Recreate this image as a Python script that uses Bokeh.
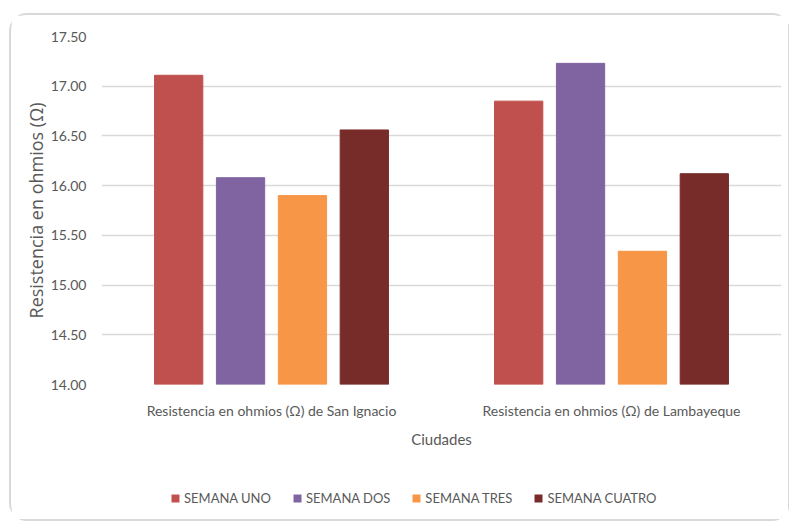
from bokeh.plotting import figure
from bokeh.models import (FactorRange, Range1d, FixedTicker, NumeralTickFormatter,
                          Legend, LegendItem, ColumnDataSource)
from bokeh.layouts import column
from bokeh.transform import dodge
from bokeh.embed import file_html
from bokeh.resources import INLINE

cities = ["Resistencia en ohmios (Ω) de San Ignacio",
          "Resistencia en ohmios (Ω) de Lambayeque"]
series = ["SEMANA UNO", "SEMANA DOS", "SEMANA TRES", "SEMANA CUATRO"]
semana_uno = [17.11, 16.85]
semana_dos = [16.08, 17.23]
semana_tres = [15.90, 15.34]
semana_cuatro = [16.56, 16.12]
y_ticks = [14.0, 14.5, 15.0, 15.5, 16.0, 16.5, 17.0, 17.5]

colors = ["#C0504D", "#8064A2", "#F79646", "#772C2A"]
values = [semana_uno, semana_dos, semana_tres, semana_cuatro]
offsets = [-0.273, -0.091, 0.091, 0.273]
label_color = "#595959"

xr = FactorRange(*cities)
p = figure(width=777, height=455, x_range=xr, y_range=Range1d(14.0, 17.5),
           output_backend="svg", toolbar_location=None,
           min_border_left=90, min_border_right=7, min_border_top=21, min_border_bottom=86)
p.outline_line_color = None

# legend strip below the chart (shares the data; its renderers are not drawn)
lf = figure(width=777, height=49, x_range=xr, y_range=Range1d(0, 1),
            output_backend="svg", toolbar_location=None, min_border=0,
            x_axis_location=None, y_axis_location=None)
lf.grid.grid_line_color = None
lf.outline_line_color = None

items = []
for name, vals, col, off in zip(series, values, colors, offsets):
    src = ColumnDataSource({"city": cities, "val": vals, "base": [14.0, 14.0]})
    p.vbar(x=dodge("city", off, range=xr), top="val", bottom="base",
           width=0.142, source=src, fill_color=col, line_color=col)
    r = lf.vbar(x=dodge("city", off, range=xr), top="val", bottom="base",
                width=0.142, source=src, fill_color=col, line_color=None)
    r.visible = False
    items.append(LegendItem(label=name, renderers=[r]))

p.yaxis.ticker = FixedTicker(ticks=y_ticks)
p.yaxis.formatter = NumeralTickFormatter(format="0.00")
p.yaxis.axis_line_color = None
p.yaxis.major_tick_line_color = None
p.yaxis.minor_tick_line_color = None
p.yaxis.major_label_text_font = "Lato"
p.yaxis.major_label_text_font_size = "14px"
p.yaxis.major_label_text_color = label_color
p.yaxis.major_label_standoff = 9
p.yaxis.axis_label = "Resistencia en ohmios (Ω)"
p.yaxis.axis_label_text_font = "Open Sans"
p.yaxis.axis_label_text_font_style = "normal"
p.yaxis.axis_label_text_font_size = "18px"
p.yaxis.axis_label_text_color = label_color
p.yaxis.axis_label_standoff = 0

p.xaxis.axis_line_color = None
p.xaxis.major_tick_line_color = None
p.xaxis.minor_tick_line_color = None
p.xaxis.major_label_text_font = "Lato"
p.xaxis.major_label_text_font_size = "14px"
p.xaxis.major_label_text_color = label_color
p.xaxis.major_label_standoff = 11
p.xaxis.axis_label = "Ciudades"
p.xaxis.axis_label_text_font = "Lato"
p.xaxis.axis_label_text_font_style = "normal"
p.xaxis.axis_label_text_font_size = "15px"
p.xaxis.axis_label_text_color = label_color
p.xaxis.axis_label_standoff = 8

p.xgrid.grid_line_color = None
p.ygrid.grid_line_color = "#D9D9D9"
p.ygrid.grid_line_width = 1.5

legend = Legend(items=items, orientation="horizontal", location=(69, 13),
                label_text_font="Lato", label_text_font_size="13px",
                label_text_color=label_color, glyph_width=10, glyph_height=10,
                spacing=21, label_standoff=4, border_line_color=None,
                background_fill_alpha=0, padding=2, margin=0,
                inactive_fill_alpha=0)
lf.add_layout(legend, "center")

root = column(p, lf, margin=(13, 0, 0, 9),
              styles={"border": "2px solid #D9D9D9", "border-radius": "18px"})

open("out.html", "w").write(file_html(root, INLINE))
